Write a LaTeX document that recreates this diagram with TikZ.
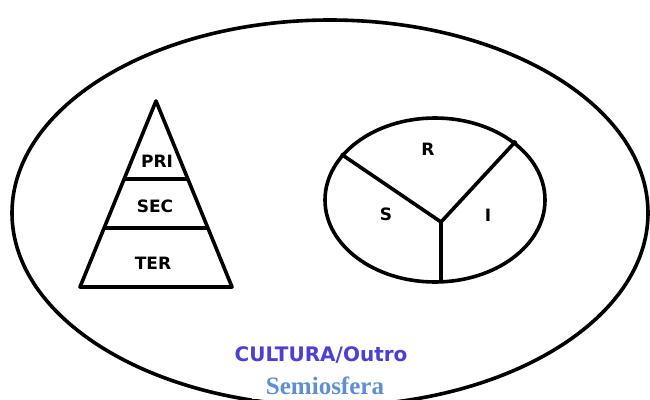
\documentclass[tikz,border=0pt]{standalone}
\usepackage{fontspec}
\setmainfont{DejaVu Sans}
\newfontfamily\serifb{Liberation Serif}
\definecolor{cult}{HTML}{4B3FD8}
\definecolor{semi}{HTML}{5E8FD6}
\begin{document}
\begin{tikzpicture}[x=1pt,y=-1pt,
  shape line/.style={line width=3.6pt,line join=round},
  lbl/.style={font=\bfseries\fontsize{17}{19}\selectfont,inner sep=0pt}]
\useasboundingbox (0,0) rectangle (650,399);
\clip (0,0) rectangle (650,399);
\fill[white] (0,0) rectangle (650,399);
% big ellipse
\draw[shape line] (330,213) ellipse [x radius=318, y radius=193];
% pyramid
\coordinate (apex) at (156,101);
\coordinate (bl) at (80,287);
\coordinate (br) at (232,287);
\draw[shape line] (apex) -- (br) -- (bl) -- cycle;
\draw[shape line] (124,179) -- (188,179);
\draw[shape line] (104,228) -- (208,228);
\node[lbl] (pri) at (157,161) {PRI};
\node[lbl] (sec) at (155,206) {SEC};
\node[lbl] (ter) at (153,263) {TER};
% circle
\draw[shape line] (435,200) ellipse [x radius=110, y radius=82];
\coordinate (hc) at (441,222);
\coordinate (ul) at (341,154);
\coordinate (ur) at (516,141);
\coordinate (bt) at (441,282);
\draw[shape line] (ul) -- (hc) -- (ur);
\draw[shape line] (hc) -- (bt);
\node[lbl] (r) at (428,149) {R};
\node[lbl] (s) at (386,214) {S};
\node[lbl] (i) at (488,215) {I};
% texts
\node[inner sep=0pt,text=cult,font=\bfseries\fontsize{20}{22}\selectfont] (cultura) at (321,355) {CULTURA/Outro};
\node[inner xsep=14pt,inner ysep=4pt,fill=white,text=semi,font=\serifb\bfseries\fontsize{25}{27}\selectfont] (semio) at (325,386) {Semiosfera};
\end{tikzpicture}
\end{document}
